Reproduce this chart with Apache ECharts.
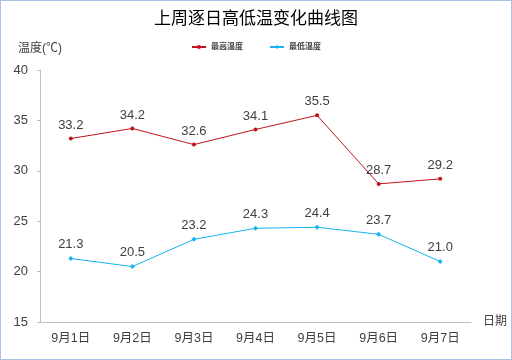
<!DOCTYPE html>
<html><head><meta charset="utf-8">
<script src="https://cdn.jsdelivr.net/npm/echarts@6/dist/echarts.min.js"></script>
<style>html,body{margin:0;padding:0;background:#fff}#c{width:510px;height:358px;border:1px solid #A8C3E6}</style>
</head><body><div id="c"></div>
<script>
const categories=['9月1日','9月2日','9月3日','9月4日','9月5日','9月6日','9月7日'];
const highTemps=[33.2,34.2,32.6,34.1,35.5,28.7,29.2];
const lowTemps=[21.3,20.5,23.2,24.3,24.4,23.7,21.0];
const yTicks={min:15,max:40,interval:5};
const chart=echarts.init(document.getElementById('c'));
const font='"Liberation Sans","Noto Sans CJK SC",sans-serif';
const lbl={show:true,position:'top',distance:5,fontSize:13,color:'#404040',formatter:p=>Number(p.value).toFixed(1)};
chart.setOption({
  animation:false,
  textStyle:{fontFamily:font},
  title:{text:'上周逐日高低温变化曲线图',left:'center',top:5,textStyle:{fontSize:17,fontWeight:'normal',color:'#000',fontFamily:font}},
  legend:{top:37,left:'center',itemGap:26,itemWidth:14,itemHeight:5,textStyle:{fontSize:8,fontWeight:'bold',color:'#404040'},data:['最高温度','最低温度']},
  grid:{left:39,right:40,top:69,bottom:37},
  xAxis:{type:'category',data:categories,name:'日期',nameLocation:'end',nameGap:12,
    nameTextStyle:{fontSize:12,color:'#404040',verticalAlign:'middle'},
    axisLine:{lineStyle:{color:'#BFBFBF'}},axisTick:{inside:true,lineStyle:{color:'#BFBFBF'}},
    axisLabel:{fontSize:12.5,color:'#404040',margin:10}},
  yAxis:{type:'value',min:yTicks.min,max:yTicks.max,interval:yTicks.interval,
    name:'温度(℃)',nameLocation:'end',nameGap:15,nameTextStyle:{fontSize:12,color:'#404040',align:'center'},
    splitLine:{show:false},axisLine:{show:true,lineStyle:{color:'#BFBFBF'}},
    axisTick:{show:true,length:3,lineStyle:{color:'#BFBFBF'}},
    axisLabel:{fontSize:13,color:'#404040',margin:12}},
  series:[
    {name:'最高温度',type:'line',data:highTemps,symbol:'circle',symbolSize:4,
     itemStyle:{color:'#C0141C'},lineStyle:{color:'#C0141C',width:1},label:lbl},
    {name:'最低温度',type:'line',data:lowTemps,symbol:'diamond',symbolSize:5,
     itemStyle:{color:'#14B4EE'},lineStyle:{color:'#14B4EE',width:1},label:lbl}
  ]
});
</script></body></html>
